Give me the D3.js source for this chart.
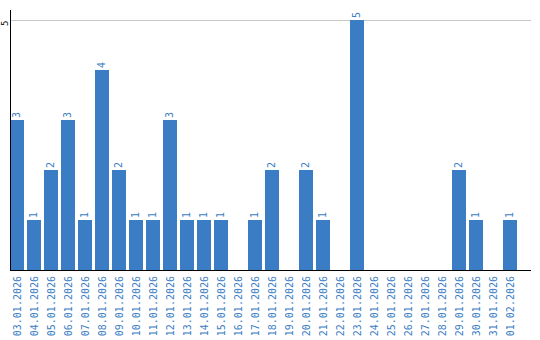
<!DOCTYPE html>
<html>
<head>
<meta charset="utf-8">
<script src="https://cdn.jsdelivr.net/npm/d3@7"></script>
<style>
  body { margin: 0; background: #fff; }
  svg text { font-family: "DejaVu Sans Mono", monospace; }
</style>
</head>
<body>
<div id="chart"></div>
<script>
var days = ["03.01.2026","04.01.2026","05.01.2026","06.01.2026","07.01.2026","08.01.2026",
  "09.01.2026","10.01.2026","11.01.2026","12.01.2026","13.01.2026","14.01.2026","15.01.2026",
  "16.01.2026","17.01.2026","18.01.2026","19.01.2026","20.01.2026","21.01.2026","22.01.2026",
  "23.01.2026","24.01.2026","25.01.2026","26.01.2026","27.01.2026","28.01.2026","29.01.2026",
  "30.01.2026","31.01.2026","01.02.2026"];
var counts = [3,1,2,3,1,4,2,1,1,3,1,1,1,0,1,2,0,2,1,0,5,0,0,0,0,0,2,1,0,1];
var yTicks = [5];

var mLeft = 10, mRight = 531, mTop = 20, mBottom = 270;
var blue = "#3b7dc4";

var svg = d3.select("#chart").append("svg")
  .attr("width", 540).attr("height", 340);

// bars step 17px, width 14px
var x = d3.scaleBand().domain(days).range([mLeft, mLeft + 507]).paddingInner(3 / 17).paddingOuter(0).align(0);
var y = d3.scaleLinear().domain([0, 5]).range([mBottom, mTop]);

// grid
svg.selectAll("line.grid").data(yTicks).enter().append("line")
  .attr("class", "grid")
  .attr("x1", mLeft).attr("x2", mRight)
  .attr("y1", d => y(d) + 0.5).attr("y2", d => y(d) + 0.5)
  .attr("stroke", "#c8c8c8").attr("stroke-width", 1);

svg.selectAll("text.ytick").data(yTicks).enter().append("text")
  .attr("class", "ytick")
  .attr("transform", d => "translate(8," + (y(d) + 6) + ") rotate(-90)")
  .attr("text-anchor", "start")
  .attr("font-size", 9)
  .attr("fill", "#000")
  .text(d => d);

// bars
svg.selectAll("rect.bar").data(counts).enter().append("rect")
  .attr("class", "bar")
  .attr("x", (d, i) => x(days[i]))
  .attr("y", d => y(d))
  .attr("width", x.bandwidth())
  .attr("height", d => mBottom - y(d))
  .attr("fill", blue);

// value labels
counts.forEach(function (d, i) {
  if (!d) return;
  svg.append("text")
    .attr("class", "val")
    .attr("transform", "translate(" + (x(days[i]) + x.bandwidth() / 2 + 3) + "," + (y(d) - 2) + ") rotate(-90)")
    .attr("text-anchor", "start")
    .attr("font-size", 10)
    .attr("fill", blue)
    .text(d);
});

// axis lines
svg.append("line")
  .attr("x1", mLeft + 0.5).attr("x2", mLeft + 0.5)
  .attr("y1", 10).attr("y2", mBottom)
  .attr("stroke", "#000");
svg.append("line")
  .attr("x1", mLeft).attr("x2", mRight)
  .attr("y1", mBottom + 0.5).attr("y2", mBottom + 0.5)
  .attr("stroke", "#000");

// x labels
svg.selectAll("text.xlab").data(days).enter().append("text")
  .attr("class", "xlab")
  .attr("transform", d => "translate(" + (x(d) + x.bandwidth() / 2 + 4) + "," + (mBottom + 6) + ") rotate(-90)")
  .attr("text-anchor", "end")
  .attr("font-size", 10)
  .attr("fill", blue)
  .text(d => d);
</script>
</body>
</html>
